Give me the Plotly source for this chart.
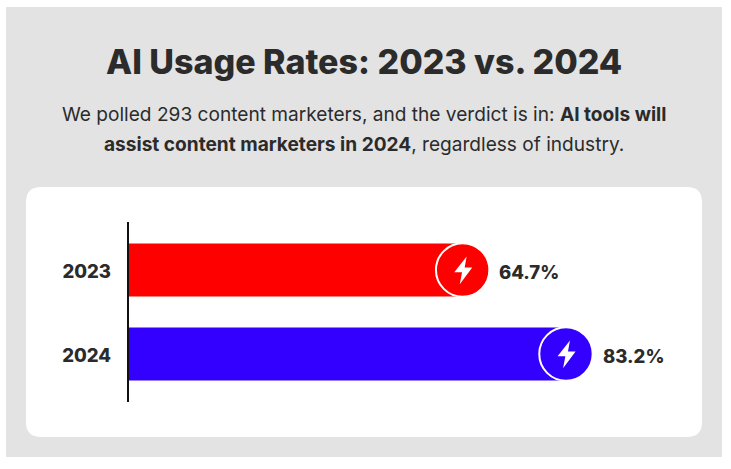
import plotly.graph_objects as go

years = ["2023", "2024"]
values = [64.7, 83.2]
labels = ["64.7%", "83.2%"]
colors = ["#ff0000", "#3300ff"]

W, H = 731, 469
INK = "#2b2b2b"
FONT = "Inter, Liberation Sans, sans-serif"
X0, SCALE = 128, 5.585
BAND, C0 = 84, 270
TOP, BOT = 222, 402
R = 26.7


def rrect(x0, y0, x1, y1, r):
    a, b = -y0, -y1
    if r == 0:
        return f"M{x0},{a} L{x1},{a} L{x1},{b} L{x0},{b} Z"
    return (f"M{x0+r},{a} L{x1-r},{a} Q{x1},{a} {x1},{a-r} L{x1},{b+r} Q{x1},{b} {x1-r},{b} "
            f"L{x0+r},{b} Q{x0},{b} {x0},{b+r} L{x0},{a-r} Q{x0},{a} {x0+r},{a} Z")


def page_shape(path, fill):
    return dict(type="path", xref="paper", yref="paper", xsizemode="pixel", ysizemode="pixel",
                xanchor=0, yanchor=1, path=path, fillcolor=fill, line_width=0, layer="below")


shapes = [page_shape(rrect(6, 7, 722, 457, 0), "#e3e3e3"),
          page_shape(rrect(26, 187, 702, 437, 15), "#ffffff")]

annotations = [
    dict(x=364 / W, y=1 - 61 / H, text="AI Usage Rates: 2023 vs. 2024",
         font=dict(size=34, color=INK, family=FONT, weight=800)),
    dict(x=364 / W, y=1 - 114 / H, text="We polled 293 content marketers, and the verdict is in: <b>AI tools will</b>",
         font=dict(size=19.1, color=INK, family=FONT)),
    dict(x=364 / W, y=1 - 144 / H, text="<b>assist content marketers in 2024</b>, regardless of industry.",
         font=dict(size=19.1, color=INK, family=FONT)),
]
for a in annotations:
    a.update(xref="paper", yref="paper", showarrow=False, xanchor="center", yanchor="middle")

fig = go.Figure(go.Bar(
    y=years, x=values, orientation="h", width=53 / BAND,
    marker=dict(color=colors, line_width=0, cornerradius=26),
    hoverinfo="skip",
))

BOLT = [(4, 13.6), (-8.4, -2.3), (-0.6, -2.3), (-2.9, -14.2), (9.6, 2.5), (2, 2.5)]
for i, (v, lab, c) in enumerate(zip(values, labels, colors)):
    shapes.append(dict(type="circle", xref="x", yref="y", xsizemode="pixel", ysizemode="pixel",
                       xanchor=v, yanchor=i, x0=-2 * R, x1=0, y0=-R, y1=R,
                       fillcolor=c, line=dict(color="#ffffff", width=2), layer="above"))
    p = "M" + " L".join(f"{x - R:.1f},{y:.1f}" for x, y in BOLT) + " Z"
    shapes.append(dict(type="path", xref="x", yref="y", xsizemode="pixel", ysizemode="pixel",
                       xanchor=v, yanchor=i, path=p, fillcolor="#ffffff", line_width=0, layer="above"))
    annotations.append(dict(x=v, y=i, xref="x", yref="y", text=lab, showarrow=False,
                            xanchor="left", yanchor="middle", xshift=8, yshift=-2,
                            font=dict(size=18.5, color=INK, family=FONT, weight=800)))

fig.update_layout(
    width=W, height=H, margin=dict(l=0, r=0, t=0, b=0, autoexpand=False),
    paper_bgcolor="#ffffff", plot_bgcolor="rgba(0,0,0,0)",
    shapes=shapes, annotations=annotations, showlegend=False,
    xaxis=dict(range=[-X0 / SCALE, (W - X0) / SCALE], domain=[0, 1], visible=False, fixedrange=True),
    yaxis=dict(
        type="category", categoryorder="array", categoryarray=years,
        domain=[1 - BOT / H, 1 - TOP / H],
        range=[(BOT - C0) / BAND, (TOP - C0) / BAND],
        showgrid=False, zeroline=False, ticks="", showline=False, automargin=False,
        anchor="free", position=X0 / W, ticklabelstandoff=17, ticklabelshift=-2,
        tickfont=dict(size=18.5, color=INK, family=FONT, weight=800), fixedrange=True,
    ),
)
fig.add_shape(type="line", xref="x", yref="y domain", x0=0, x1=0, y0=0, y1=1,
              line=dict(color="#111111", width=2), layer="above")

fig.write_html("out.html", config={"displayModeBar": False},
               post_script="document.body.style.margin='0';document.body.style.overflow='hidden';")
